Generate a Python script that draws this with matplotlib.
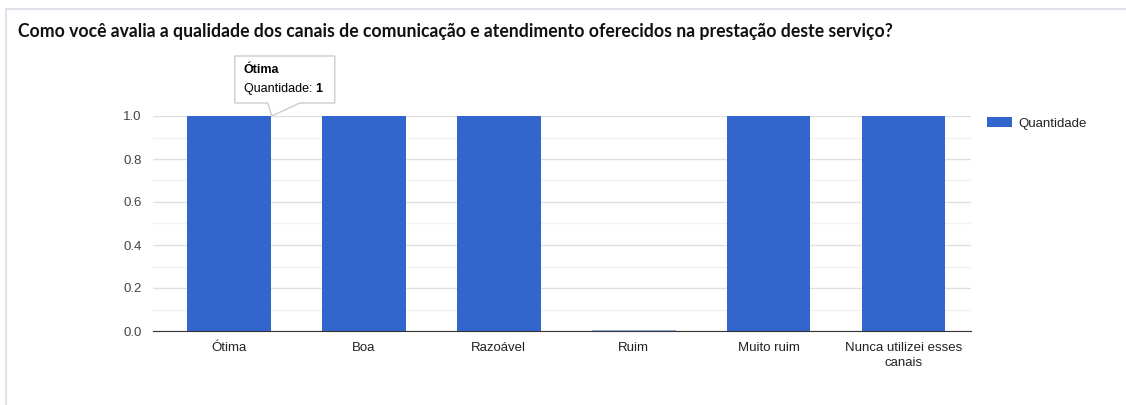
import numpy as np
import matplotlib.pyplot as plt
from matplotlib.patches import Polygon
from matplotlib.lines import Line2D
from matplotlib.ticker import MultipleLocator

# Data
categorias = ['Ótima', 'Boa', 'Razoável', 'Ruim', 'Muito ruim', 'Nunca utilizei esses\ncanais']
quantidade = [1, 1, 1, 0, 1, 1]
y_ticks = [0.0, 0.2, 0.4, 0.6, 0.8, 1.0]

titulo = 'Como você avalia a qualidade dos canais de comunicação e atendimento oferecidos na prestação deste serviço?'

plt.rcParams['font.family'] = ['Liberation Sans', 'DejaVu Sans']

W, H = 1126, 405
fig = plt.figure(figsize=(W / 100, H / 100), dpi=100)
ax = fig.add_axes([153 / W, 1 - 331 / H, (971 - 153) / W, (331 - 116) / H])

x = np.arange(len(categorias))
bar_w = 0.62
bars = ax.bar(x, quantidade, width=bar_w, color='#3366cc', zorder=3, label='Quantidade')
# zero-height bar shows as a thin line in the original
ax.bar(x[3], 0.004, width=bar_w, color='#3366cc', alpha=0.5, zorder=3)

ax.set_xlim(-0.563, len(categorias) - 0.5)
ax.set_ylim(0, 1.0)
ax.set_yticks(y_ticks)
ax.set_yticklabels([f'{v:.1f}' for v in y_ticks])
ax.yaxis.set_minor_locator(MultipleLocator(0.1))
ax.set_xticks(x)
ax.set_xticklabels(categorias, fontsize=9.5, color='#222222', linespacing=1.35)

ax.grid(axis='y', which='major', color='#e0e0e0', lw=1, zorder=0)
ax.grid(axis='y', which='minor', color='#f2f2f2', lw=1, zorder=0)
for s in ['top', 'right', 'left']:
    ax.spines[s].set_visible(False)
ax.spines['bottom'].set_color('#333333')
ax.spines['bottom'].set_zorder(4)
ax.tick_params(axis='both', which='both', length=0)
ax.tick_params(axis='y', labelsize=9.5, labelcolor='#444444', pad=8)
ax.tick_params(axis='x', pad=8)

# legend
fig.legend(handles=[bars], labels=['Quantidade'], loc='upper left',
           bbox_to_anchor=(975 / W, 1 - 105 / H), frameon=False, fontsize=9.5,
           handlelength=1.9, handleheight=0.85, handletextpad=0.45, labelcolor='#222222')

# card border (top and left only)
fig.lines.append(Line2D([6 / W, 1], [1 - 9 / H, 1 - 9 / H], transform=fig.transFigure,
                        color='#dde3e8', lw=1.5))
fig.lines.append(Line2D([6 / W, 6 / W], [0, 1 - 9 / H], transform=fig.transFigure,
                        color='#dde3e8', lw=1.5))

fig.text(18 / W, 1 - 31 / H, titulo, fontsize=12.7, fontweight='bold',
         family=['Lato', 'DejaVu Sans'], color='#111111', va='center')

# tooltip over first bar
fig.canvas.draw()
px, py = ax.transData.transform((x[0] + bar_w / 2, quantidade[0]))
bl, br, bt, bb = px - 36, px + 64, py + 60, py + 13
tip = Polygon([(bl, bb), (bl, bt), (br, bt), (br, bb), (px + 29, bb), (px + 1, py), (px - 3, bb)],
              closed=True, transform=None, facecolor='white', edgecolor='#cccccc',
              lw=1, zorder=10)
fig.patches.append(tip)
fig.text((bl + 9) / W, (bt - 14) / H, categorias[0], fontsize=9, fontweight='bold',
         color='#000000', va='center', zorder=11)
t = fig.text((bl + 9) / W, (bt - 33) / H, 'Quantidade: ', fontsize=9,
             color='#000000', va='center', zorder=11)
fig.canvas.draw()
ext = t.get_window_extent()
fig.text(ext.x1 / W, (bt - 33) / H, str(quantidade[0]), fontsize=9, fontweight='bold',
         color='#000000', va='center', zorder=11)

fig.savefig('out.png', dpi=100)
